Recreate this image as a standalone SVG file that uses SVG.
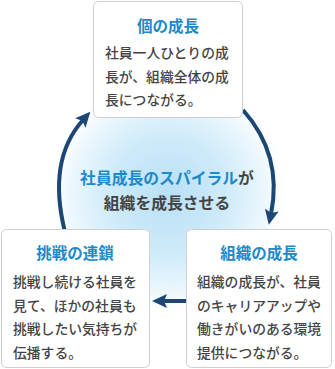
<svg xmlns="http://www.w3.org/2000/svg" width="335" height="369" viewBox="0 0 335 369">
<defs>
<radialGradient id="glow" cx="168" cy="195" r="125" gradientUnits="userSpaceOnUse">
<stop offset="0" stop-color="#b9e0f6"/>
<stop offset="0.45" stop-color="#cdeaf9"/>
<stop offset="0.8" stop-color="#eef8fd"/>
<stop offset="1" stop-color="#ffffff" stop-opacity="0"/>
</radialGradient>
<marker id="ah" markerUnits="userSpaceOnUse" markerWidth="16" markerHeight="16" refX="4" refY="7" orient="auto" viewBox="0 0 16 14">
<path d="M0,0 L15,7 L0,14 L3,7 z" fill="#1c4775"/>
</marker>
</defs>
<style>
.box{fill:#fff;stroke:#cfcfcf;stroke-width:1}
.ttl{font-family:"Noto Sans CJK JP","Noto Sans",sans-serif;font-weight:bold;font-size:15.5px;fill:#1d8ac8;text-anchor:middle}
.body{font-family:"Noto Sans CJK JP","Noto Sans",sans-serif;font-size:13.8px;fill:#444;font-weight:500}
.ctr{font-family:"Noto Sans CJK JP","Noto Sans",sans-serif;font-weight:bold;font-size:15.8px;text-anchor:middle;fill:#444}
.arr{fill:none;stroke:#1c4775;stroke-width:4;stroke-linecap:butt}
</style>
<rect width="335" height="369" fill="#fff"/>
<ellipse cx="168" cy="200" rx="125" ry="135" fill="url(#glow)"/>
<g id="connectors">
<path class="arr" d="M243,110 Q283,155 271,214" marker-end="url(#ah)"/>
<path class="arr" d="M65,232 Q47,160 83,120" marker-end="url(#ah)"/>
<path class="arr" d="M187,301 L163,301" marker-end="url(#ah)"/>
</g>
<g id="center-text">
<text class="ctr" x="167" y="184"><tspan fill="#1d8ac8">社員成長のスパイラル</tspan>が</text>
<text class="ctr" x="167" y="209">組織を成長させる</text>
</g>
<g id="node-individual">
<rect class="box" x="93.5" y="1.5" width="149" height="116" rx="5"/>
<text class="ttl" x="168" y="32">個の成長</text>
<text class="body" x="105" y="58">社員一人ひとりの成</text>
<text class="body" x="105" y="82">長が、組織全体の成</text>
<text class="body" x="105" y="105">長につながる。</text>
</g>
<g id="node-challenge">
<rect class="box" x="1.5" y="229.5" width="148" height="138" rx="5"/>
<text class="ttl" x="75" y="259">挑戦の連鎖</text>
<text class="body" x="13" y="287">挑戦し続ける社員を</text>
<text class="body" x="13" y="310.5">見て、ほかの社員も</text>
<text class="body" x="13" y="334">挑戦したい気持ちが</text>
<text class="body" x="13" y="357.5">伝播する。</text>
</g>
<g id="node-organization">
<rect class="box" x="186.5" y="229.5" width="145" height="138" rx="5"/>
<text class="ttl" x="259" y="259">組織の成長</text>
<text class="body" x="197" y="287">組織の成長が、社員</text>
<text class="body" x="197" y="310.5">のキャリアアップや</text>
<text class="body" x="197" y="334">働きがいのある環境</text>
<text class="body" x="197" y="357.5">提供につながる。</text>
</g>
</svg>
